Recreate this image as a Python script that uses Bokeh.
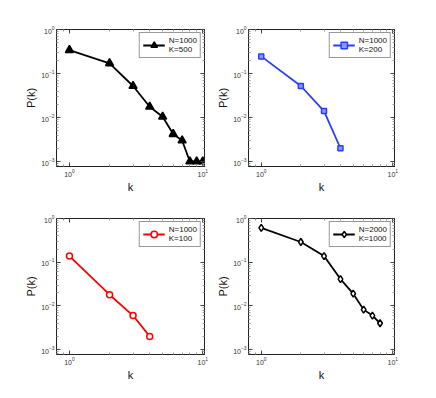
from bokeh.plotting import figure
from bokeh.layouts import column, row
from bokeh.models import FixedTicker, LogAxis, Legend, LegendItem
from bokeh.embed import file_html
from bokeh.resources import INLINE

# data
k1 = [1, 2, 3, 4, 5, 6, 7, 8, 9, 10]
p1 = [0.34, 0.17, 0.052, 0.0176, 0.0104, 0.0042, 0.003, 0.001, 0.001, 0.001]
label1 = "N=1000\nK=500"

k2 = [1, 2, 3, 4]
p2 = [0.245, 0.052, 0.014, 0.002]
label2 = "N=1000\nK=200"

k3 = [1, 2, 3, 4]
p3 = [0.138, 0.018, 0.006, 0.002]
label3 = "N=1000\nK=100"

k4 = [1, 2, 3, 4, 5, 6, 7, 8]
p4 = [0.61, 0.29, 0.138, 0.041, 0.019, 0.0082, 0.006, 0.004]
label4 = "N=2000\nK=1000"

x_major = [1, 10]
x_minor = [0.8, 0.9, 2, 3, 4, 5, 6, 7, 8, 9]
y_major = [1e-3, 1e-2, 1e-1, 1e0]
y_minor = [m * 10.0 ** e for e in (-4, -3, -2, -1) for m in range(2, 10) if m * 10.0 ** e > 0.00077]

FONT = "Liberation Sans"


def style_axis(ax, show_labels=True):
    ax.axis_line_color = "#222222"
    ax.axis_line_width = 1
    ax.major_tick_in = 4
    ax.major_tick_out = 0
    ax.minor_tick_in = 2
    ax.minor_tick_out = 0
    ax.major_tick_line_color = "#444444"
    ax.minor_tick_line_color = "#999999"
    ax.major_label_text_font = FONT
    ax.major_label_text_font_size = "7px"
    ax.major_label_text_color = "#333333"
    ax.major_label_standoff = 2
    ax.axis_label_text_font = FONT
    ax.axis_label_text_font_size = "11px"
    ax.axis_label_text_font_style = "normal"
    ax.axis_label_text_color = "#111111"
    ax.axis_label_standoff = 1
    if not show_labels:
        ax.major_label_text_font_size = "1px"
        ax.major_label_text_color = None
        ax.major_label_standoff = 0


def make(k, p, label, color, marker, fill, width, height, bl, br, bt, bb, msize):
    f = figure(width=width, height=height, x_axis_type="log", y_axis_type="log",
               x_range=(0.8, 10.3), y_range=(0.00077, 1.0), output_backend="svg",
               toolbar_location=None, min_border_left=bl, min_border_right=br,
               min_border_top=bt, min_border_bottom=bb)
    f.xgrid.visible = False
    f.ygrid.visible = False
    f.outline_line_color = "#222222"
    f.background_fill_color = "white"
    f.border_fill_color = "white"
    f.xaxis.ticker = FixedTicker(ticks=x_major, minor_ticks=x_minor)
    f.yaxis.ticker = FixedTicker(ticks=y_major, minor_ticks=y_minor)
    f.xaxis.axis_label = "k"
    f.yaxis.axis_label = "P(k)"
    for ax in f.xaxis + f.yaxis:
        style_axis(ax)
    top = LogAxis(ticker=FixedTicker(ticks=x_major, minor_ticks=x_minor))
    right = LogAxis(ticker=FixedTicker(ticks=y_major, minor_ticks=y_minor))
    style_axis(top, False)
    style_axis(right, False)
    f.add_layout(top, "above")
    f.add_layout(right, "right")
    ln = f.line(k, p, line_color=color, line_width=1.8)
    sc = f.scatter(k, p, marker=marker, size=msize, line_color=color, fill_color=fill, line_width=1.5)
    leg = Legend(items=[LegendItem(label=label, renderers=[ln, sc])], location="top_right")
    leg.label_text_font = FONT
    leg.label_text_font_size = "8px"
    leg.label_text_color = "#111111"
    leg.glyph_width = 22
    leg.glyph_height = 16
    leg.label_standoff = 4
    leg.padding = 3
    leg.spacing = 0
    leg.margin = 3
    leg.border_line_color = "#333333"
    leg.border_line_width = 1
    leg.background_fill_alpha = 1
    f.add_layout(leg)
    return f


p_a = make(k1, p1, label1, "black", "triangle", "black", 214, 199, 56, 10, 29, 33, 8)
p_b = make(k2, p2, label2, "#2a3cff", "square", "#8898ff", 222, 199, 34, 42, 29, 33, 5)
p_c = make(k3, p3, label3, "#ff0000", "circle", "white", 214, 199, 56, 10, 19, 44, 6)
p_d = make(k4, p4, label4, "black", "diamond", "white", 222, 199, 34, 42, 19, 44, 7)

layout = column(row(p_a, p_b), row(p_c, p_d))
open("out.html", "w").write(file_html(layout, INLINE))
